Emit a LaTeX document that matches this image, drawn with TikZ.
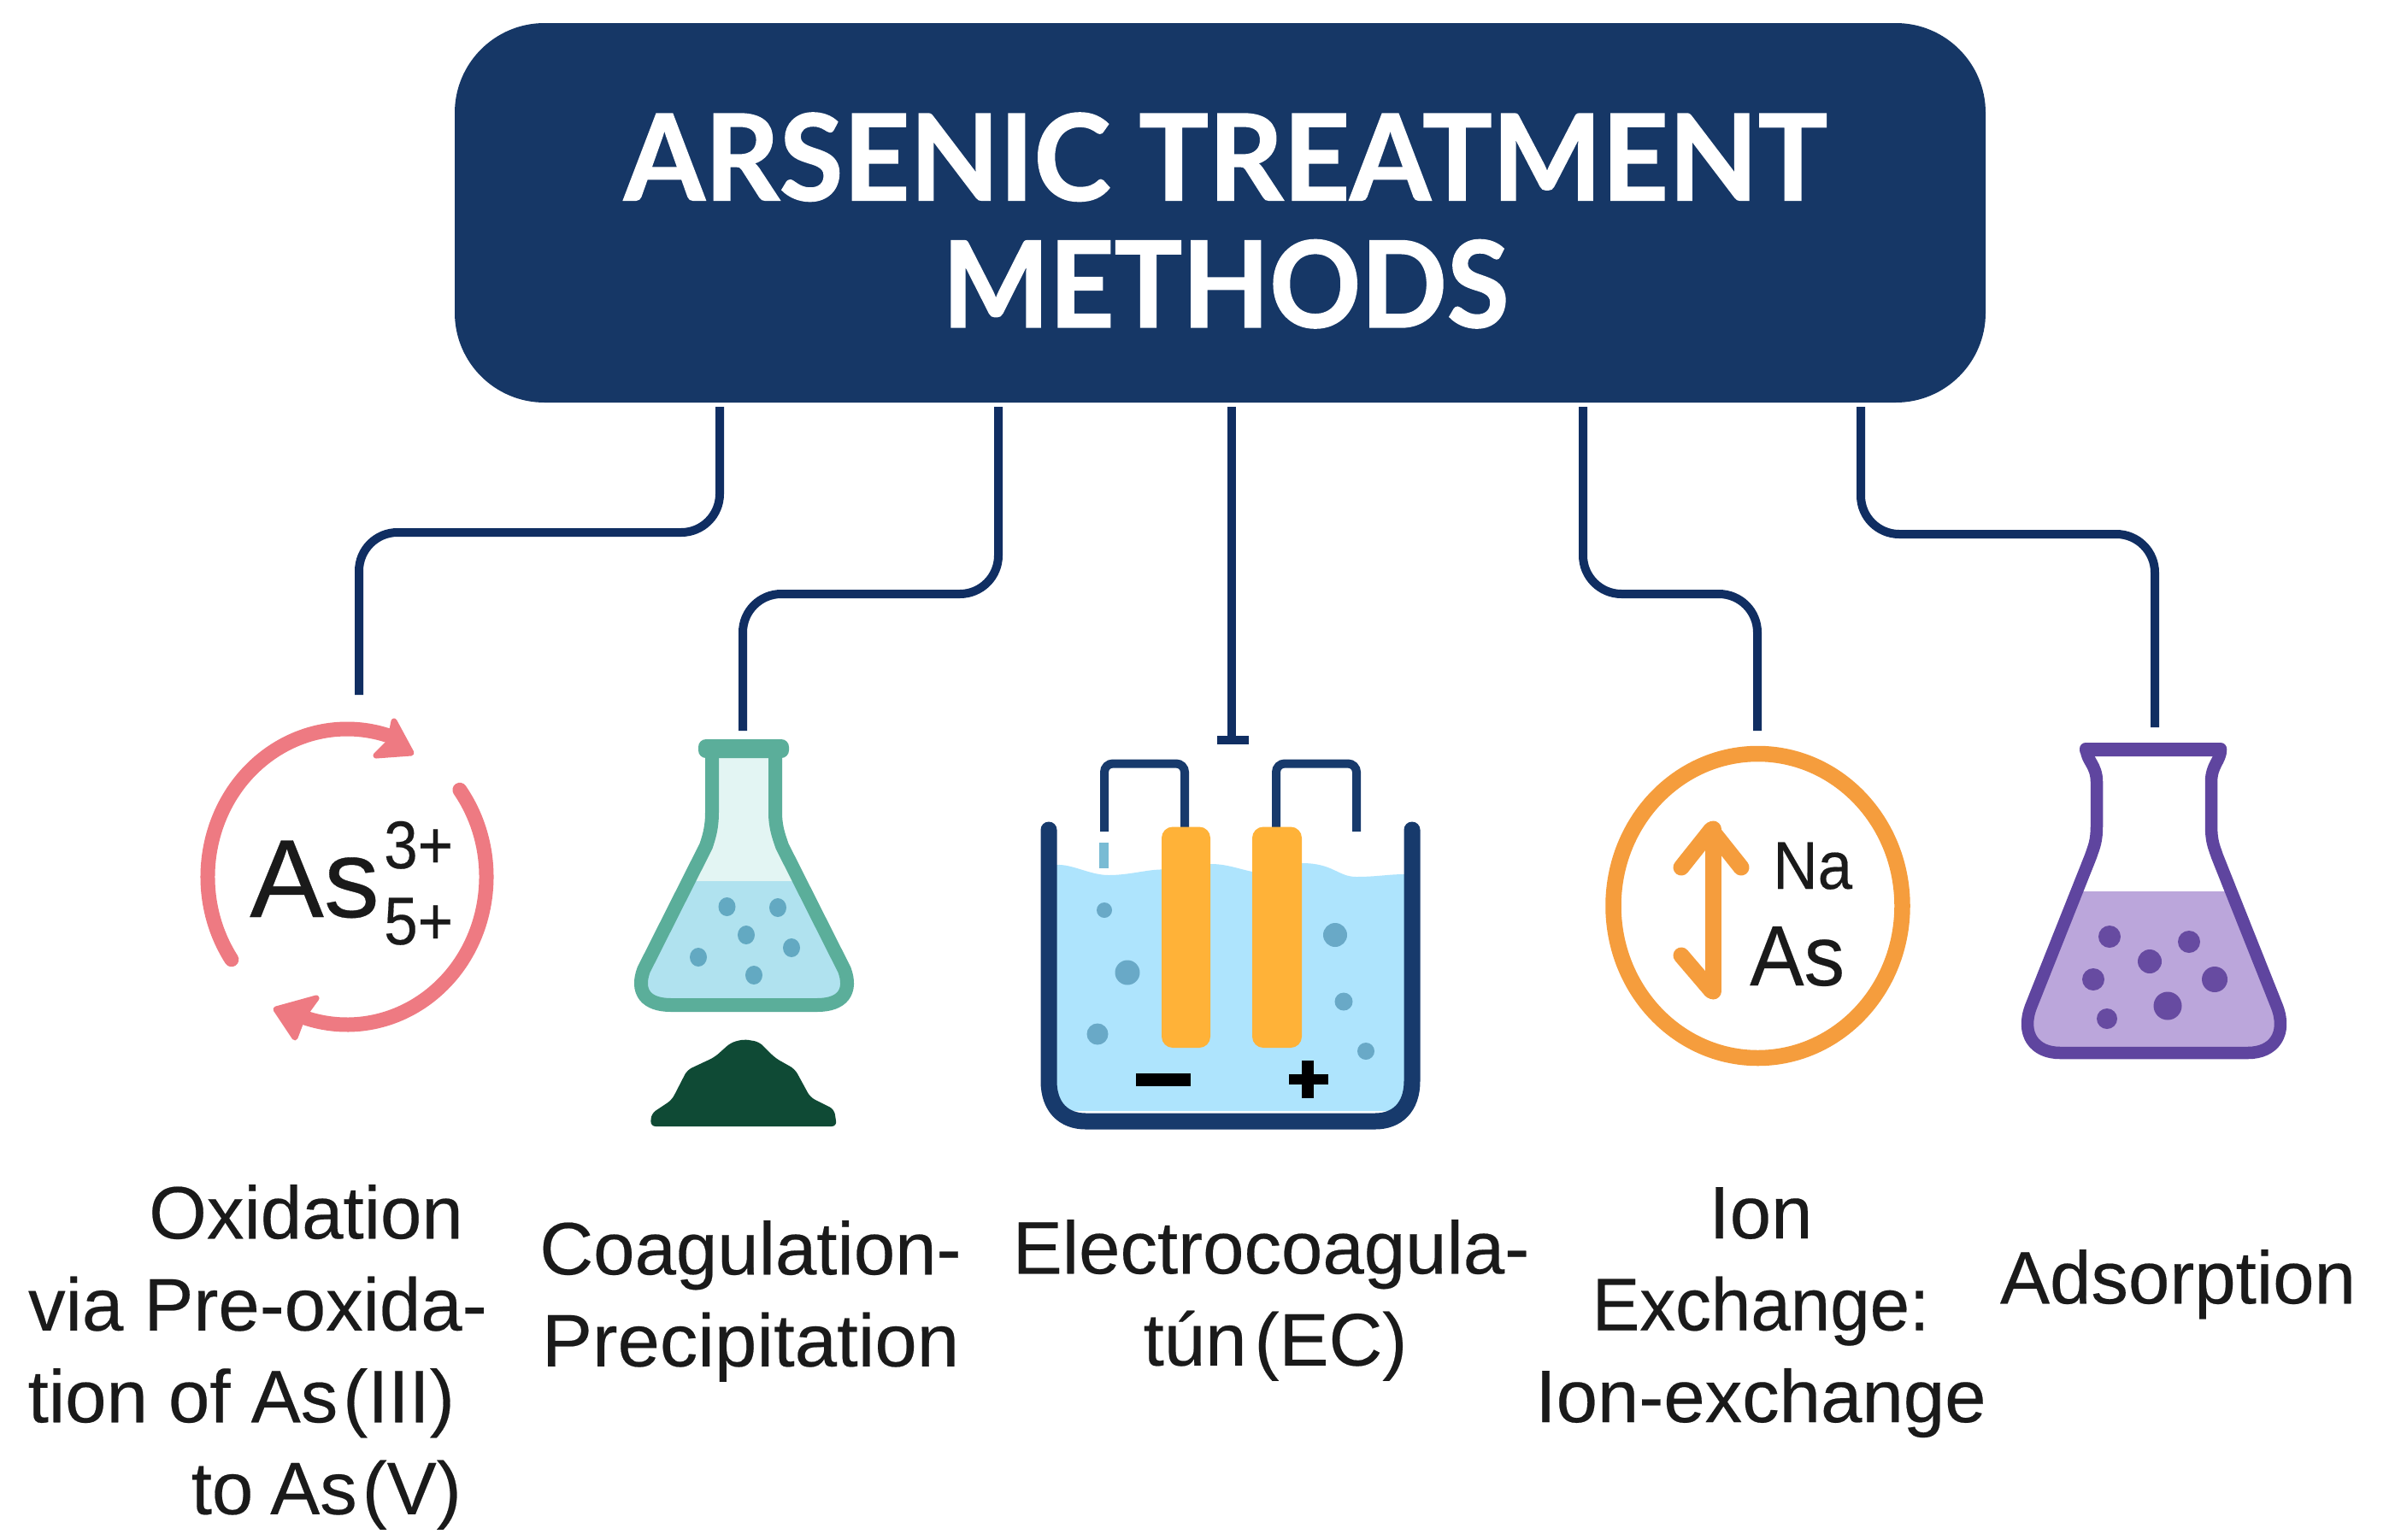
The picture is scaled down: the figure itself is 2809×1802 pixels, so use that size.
\documentclass[tikz,border=0pt]{standalone}
\usepackage{fontspec}
\setmainfont{Liberation Sans}[FakeBold=0.25]
\newfontfamily\titlefont{Lato}[BoldFeatures={FakeBold=1.2}]
\definecolor{navy}{HTML}{163766}
\definecolor{wirec}{HTML}{102E62}
\definecolor{tankc}{HTML}{173A6C}
\definecolor{inkc}{HTML}{1A1A1A}
\definecolor{coral}{HTML}{EE7A82}
\definecolor{tealc}{HTML}{5BAE9A}
\definecolor{tealtop}{HTML}{E3F5F3}
\definecolor{tealliq}{HTML}{B0E2EF}
\definecolor{tealdot}{HTML}{63A9C2}
\definecolor{pilec}{HTML}{0F4A35}
\definecolor{waterc}{HTML}{AEE4FD}
\definecolor{ecdot}{HTML}{69A9C7}
\definecolor{electro}{HTML}{FFB238}
\definecolor{orangec}{HTML}{F59D3D}
\definecolor{purplec}{HTML}{5F459F}
\definecolor{purpleliq}{HTML}{BBA6DB}
\definecolor{purpledot}{HTML}{674BA1}
\newcommand\flaskApath{(833,-887) -- (833,-950) .. controls (833,-968) and (830,-978) .. (826,-990) -- (753,-1135) .. controls (744,-1160) and (755,-1176) .. (785,-1176) -- (956,-1176) .. controls (986,-1176) and (997,-1160) .. (988,-1135) -- (915,-990) .. controls (911,-978) and (907,-968) .. (907,-950) -- (907,-887)}
\newcommand\flaskBpath{(2441,-877) -- (2598,-877) .. controls (2598,-890) and (2587,-895) .. (2587,-915) -- (2587,-965) .. controls (2587,-985) and (2590,-990) .. (2594,-1002) -- (2664,-1178) .. controls (2676,-1210) and (2660,-1232) .. (2630,-1232) -- (2410,-1232) .. controls (2380,-1232) and (2364,-1210) .. (2376,-1178) -- (2446,-1002) .. controls (2450,-990) and (2453,-985) .. (2453,-965) -- (2453,-915) .. controls (2453,-895) and (2441,-890) .. (2441,-877) -- cycle}
\tikzset{
  titlebox/.style={fill=navy,rounded corners=105pt,inner sep=0pt,minimum width=1791pt,minimum height=444pt},
  titletext/.style={inner sep=0pt,text=white,align=center,xscale=.97,font=\titlefont\bfseries\fontsize{140}{148.5}\selectfont},
  link/.style={draw=wirec,line width=10pt,rounded corners=45pt},
  lab/.style={inner sep=0pt,anchor=north,text=inkc,font=\fontsize{87}{107.5}\selectfont},
  icontxt/.style={inner sep=0pt,anchor=base west,text=inkc},
  cyc/.style={draw=coral,line width=17pt,line cap=round},
  chev/.style={fill=coral,draw=coral,line width=7pt,line join=round},
  wire/.style={draw=tankc,line width=10pt,rounded corners=10pt},
  electrode/.style={fill=electro,rounded corners=13pt},
  ion/.style={draw=orangec,line width=19pt,line cap=round,line join=round},
}
\begin{document}
\begin{tikzpicture}[x=1pt,y=1pt]
\useasboundingbox (0,0) rectangle (2809,-1802);
\fill[white] (0,0) rectangle (2809,-1802);

% title
\node[titlebox] (title) at (1427.5,-249) {};
\node[titletext] (titlelabel) at (1434,-258) {ARSENIC TREATMENT\\\scalebox{.975}[1]{METHODS}};

% connector coordinates
\coordinate (tb) at ([yshift=-5pt]title.south);
\coordinate (k1) at (842,-623);  \coordinate (e1) at (420,-813);
\coordinate (k2) at (1168,-695); \coordinate (e2) at (869,-855);
\coordinate (e3) at (1441,-866);
\coordinate (k4) at (1852,-695); \coordinate (e4) at (2056,-855);
\coordinate (k5) at (2177,-625); \coordinate (e5) at (2521,-851);
\coordinate (barL) at (1424,-866); \coordinate (barR) at (1461,-866);

\draw[link] (tb -| k1) -- (k1) -- (k1 -| e1) -- (e1);
\draw[link] (tb -| k2) -- (k2) -- (k2 -| e2) -- (e2);
\draw[link] (tb -| e3) -- (e3);
\draw[link] (barL) -- (barR);
\draw[link] (tb -| k4) -- (k4) -- (k4 -| e4) -- (e4);
\draw[link] (tb -| k5) -- (k5) -- (k5 -| e5) -- (e5);

% icon 1: oxidation cycle
\draw[cyc] (406,-1026) ++(214:163pt and 173pt) arc[start angle=214,end angle=70,x radius=163pt,y radius=173pt];
\draw[cyc] (406,-1026) ++(36:163pt and 173pt) arc[start angle=36,end angle=-108,x radius=163pt,y radius=173pt];
\draw[chev] (461,-844) -- (481,-881) -- (440,-884) -- (456,-868) -- cycle;
\draw[chev] (323,-1181) -- (370,-1168) -- (354,-1190) -- (345,-1214) -- cycle;
\node[icontxt,font=\fontsize{130}{130}\selectfont] (as1) at (292,-1073) {As};
\node[icontxt,font=\fontsize{79}{79}\selectfont,xscale=.9] (ox3) at (449,-1016) {3+};
\node[icontxt,font=\fontsize{79}{79}\selectfont,xscale=.9] (ox5) at (449,-1105) {5+};

% icon 2: green flask and precipitate
\fill[tealtop] \flaskApath -- cycle;
\begin{scope}
  \clip \flaskApath -- cycle;
  \fill[tealliq] (700,-1031) rectangle (1050,-1200);
\end{scope}
\foreach \p/\q in {850.5/1061,910/1062,873/1094,926/1109,817/1120,882/1141}
  \fill[tealdot] (\p,-\q) ellipse[x radius=10pt,y radius=11pt];
\draw[draw=tealc,line width=16pt,line join=round] \flaskApath;
\fill[tealc,rounded corners=9pt] (817,-865) rectangle (923,-887);
\fill[pilec,rounded corners=6pt] (761,-1318) -- (762,-1303) -- (786,-1287) -- (804,-1252) -- (836,-1237) -- (855,-1220) -- (870,-1216) -- (888,-1219) -- (907,-1238) -- (930,-1251) -- (948,-1284) -- (976,-1298) -- (979,-1318) -- cycle;

% icon 3: electrocoagulation tank
\fill[waterc] (1236,-1012) .. controls (1255,-1011) and (1275,-1024) .. (1297,-1024)
  .. controls (1320,-1024) and (1340,-1018) .. (1357,-1017.5)
  -- (1417,-1011) .. controls (1435,-1011) and (1450,-1017) .. (1465,-1020)
  -- (1523,-1010) .. controls (1560,-1010) and (1565,-1026) .. (1587,-1026)
  .. controls (1610,-1026) and (1625,-1023) .. (1643,-1023)
  -- (1643,-1300) -- (1236,-1300) -- cycle;
\draw[draw=tankc,line width=19pt,line cap=round] (1227,-971) -- (1227,-1265) .. controls (1227,-1296) and (1245,-1312) .. (1270,-1312) -- (1609,-1312) .. controls (1634,-1312) and (1652,-1296) .. (1652,-1265) -- (1652,-971);
\draw[wire] (1292,-973) -- (1292,-893.5) -- (1386,-893.5) -- (1386,-970);
\draw[wire] (1493,-970) -- (1493,-893.5) -- (1587,-893.5) -- (1587,-973);
\fill[electrode] (1359,-967.5) rectangle (1416,-1226);
\fill[electrode] (1465,-967.5) rectangle (1523,-1226);
\fill[tealdot!70!waterc] (1286,-986) rectangle (1297,-1016);
\foreach \p/\q/\r in {1292/1065/9,1319/1138/14.5,1284/1210/12.5,1562/1094/14,1572/1172/10.5,1598/1230/10}
  \fill[ecdot] (\p,-\q) circle[radius=\r pt];
\fill[black] (1329,-1256) rectangle (1393,-1271);
\fill[black] (1508,-1257) rectangle (1554,-1269);
\fill[black] (1523,-1241) rectangle (1537,-1285);

% icon 4: ion exchange
\draw[draw=orangec,line width=18.5pt] (2056.5,-1060) ellipse[x radius=169pt,y radius=178pt];
\draw[ion] (2004,-970) -- (2004,-1160);
\draw[ion] (1967,-1015) -- (2002,-971) -- (2037,-1015);
\draw[ion] (1967,-1118) -- (2002,-1159);
\node[icontxt,font=\fontsize{79}{79}\selectfont,xscale=.92] (na) at (2074,-1040) {Na};
\node[icontxt,font=\fontsize{100}{100}\selectfont,xscale=.95] (as2) at (2047,-1153) {As};

% icon 5: purple flask
\fill[white] \flaskBpath;
\begin{scope}
  \clip \flaskBpath;
  \fill[purpleliq] (2340,-1043) rectangle (2700,-1250);
\end{scope}
\foreach \p/\q/\r in {2468/1096/13,2561/1102/13,2515/1125/14,2449/1146/13,2591/1146/15,2536/1177/16.5,2465/1192/12}
  \fill[purpledot] (\p,-\q) circle[radius=\r pt];
\draw[draw=purplec,line width=14.5pt,line join=round] \flaskBpath;
\fill[purplec,rounded corners=7pt] (2433,-869) rectangle (2605,-885);

% labels
\node[lab,anchor=north east,align=right] (l1) at (570,-1386) {Oxidation\hbox to 28pt{\hfil}\\via Pre-oxida-\\tion of As\hspace{6pt}(III)\hbox to 38pt{\hfil}\\to\hspace{20pt}As\hspace{6pt}(V)\hbox to 30pt{\hfil}};
\node[lab,align=center] (l2) at (878,-1428) {Coagulation-\\\scalebox{1.02}[1]{Precipitation}};
\node[lab,align=center] (l3) at (1487,-1427) {Electrocoagula-\\\hbox to 10pt{\hfil}tún\hspace{9pt}(EC)};
\node[lab,align=center] (l4) at (2060,-1389) {Ion\\\scalebox{.96}[1]{Exchange:}\\Ion-exchange};
\node[lab] (l5) at (2548,-1462) {Adsorption};
\end{tikzpicture}
\end{document}
